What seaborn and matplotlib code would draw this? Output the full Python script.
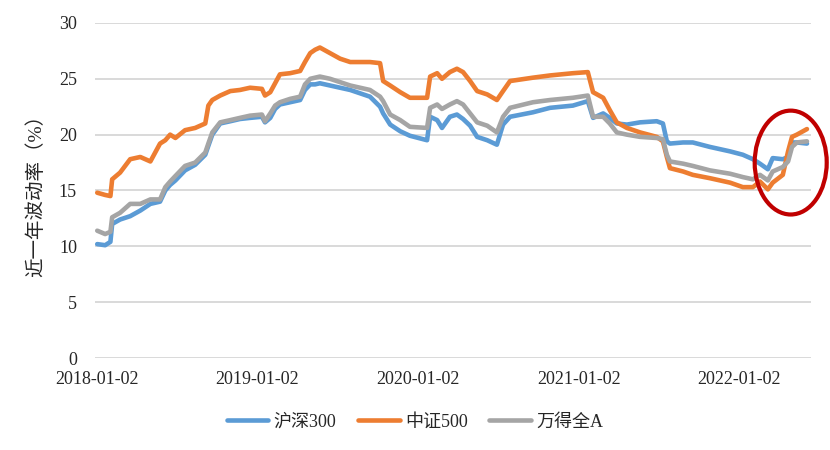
import matplotlib
matplotlib.use("Agg")
import matplotlib.pyplot as plt
import matplotlib.dates as mdates
from matplotlib.patches import Ellipse
import seaborn as sns
import pandas as pd

dates = [
    "2018-01-02", "2018-01-20", "2018-02-01", "2018-02-05", "2018-02-23", "2018-03-18",
    "2018-04-10", "2018-05-03", "2018-05-25", "2018-06-06", "2018-06-17", "2018-06-29",
    "2018-07-21", "2018-08-13", "2018-09-05", "2018-09-12", "2018-09-21", "2018-10-09",
    "2018-11-01", "2018-11-23", "2018-12-16", "2019-01-12", "2019-01-19", "2019-01-31",
    "2019-02-11", "2019-02-22", "2019-03-17", "2019-04-09", "2019-04-20", "2019-05-02",
    "2019-05-13", "2019-05-24", "2019-06-16", "2019-07-09", "2019-08-01", "2019-09-15",
    "2019-10-08", "2019-10-15", "2019-10-31", "2019-11-23", "2019-12-15", "2020-01-23",
    "2020-01-30", "2020-02-15", "2020-02-26", "2020-03-15", "2020-03-31", "2020-04-14",
    "2020-04-30", "2020-05-16", "2020-06-08", "2020-06-30", "2020-07-14", "2020-07-30",
    "2020-09-20", "2020-10-29", "2020-12-20", "2021-01-23", "2021-02-04", "2021-02-27",
    "2021-03-14", "2021-03-30", "2021-04-22", "2021-05-22", "2021-06-29", "2021-07-13",
    "2021-07-22", "2021-07-29", "2021-08-28", "2021-09-19", "2021-10-28", "2021-12-13",
    "2022-01-11", "2022-02-03", "2022-02-19", "2022-03-09", "2022-03-20", "2022-04-12",
    "2022-04-24", "2022-05-03", "2022-05-14", "2022-06-06",
]

hs300 = [
    10.2, 10.1, 10.4, 12.0, 12.4, 12.7, 13.2, 13.8, 14.0, 15.0, 15.5, 15.9,
    16.8, 17.3, 18.2, 19.0, 20.0, 21.0, 21.2, 21.4, 21.5, 21.6, 21.1, 21.5,
    22.3, 22.7, 22.9, 23.1, 24.0, 24.5, 24.5, 24.6, 24.4, 24.2, 24.0, 23.4,
    22.5, 21.9, 20.9, 20.3, 19.9, 19.5, 21.6, 21.3, 20.6, 21.6, 21.8, 21.4,
    20.8, 19.8, 19.5, 19.1, 20.9, 21.6, 22.0, 22.4, 22.6, 23.0, 21.5, 21.9,
    21.5, 21.0, 20.9, 21.1, 21.2, 21.0, 19.4, 19.2, 19.3, 19.3, 18.9, 18.5,
    18.2, 17.8, 17.4, 16.9, 17.9, 17.8, 18.0, 19.3, 19.3, 19.2,
]

zz500 = [
    14.8, 14.6, 14.5, 16.0, 16.6, 17.8, 18.0, 17.6, 19.2, 19.5, 20.0, 19.7,
    20.4, 20.6, 21.0, 22.6, 23.1, 23.5, 23.9, 24.0, 24.2, 24.1, 23.5, 23.8,
    24.6, 25.4, 25.5, 25.7, 26.5, 27.3, 27.6, 27.8, 27.3, 26.8, 26.5, 26.5,
    26.4, 24.8, 24.4, 23.8, 23.3, 23.3, 25.2, 25.5, 25.0, 25.6, 25.9, 25.6,
    24.8, 23.9, 23.6, 23.1, 23.9, 24.8, 25.1, 25.3, 25.5, 25.6, 23.8, 23.3,
    22.2, 21.1, 20.6, 20.2, 19.8, 19.4, 18.0, 17.0, 16.7, 16.4, 16.1, 15.7,
    15.3, 15.3, 15.8, 15.1, 15.7, 16.4, 18.5, 19.8, 20.0, 20.5,
]

wind_a = [
    11.4, 11.1, 11.3, 12.6, 13.0, 13.8, 13.8, 14.2, 14.2, 15.3, 15.8, 16.3,
    17.2, 17.5, 18.4, 19.2, 20.2, 21.1, 21.3, 21.5, 21.7, 21.8, 21.2, 21.9,
    22.6, 22.9, 23.2, 23.4, 24.5, 25.0, 25.1, 25.2, 25.0, 24.7, 24.4, 24.0,
    23.4, 23.0, 21.8, 21.3, 20.7, 20.6, 22.4, 22.7, 22.3, 22.7, 23.0, 22.7,
    21.9, 21.1, 20.8, 20.2, 21.6, 22.4, 22.9, 23.1, 23.3, 23.5, 21.6, 21.6,
    21.0, 20.2, 20.0, 19.8, 19.7, 19.6, 18.2, 17.6, 17.4, 17.2, 16.8, 16.5,
    16.2, 16.0, 16.4, 15.9, 16.7, 17.1, 17.6, 18.9, 19.3, 19.4,
]

series_names = ["沪深300", "中证500", "万得全A"]
colors = ["#5B9BD5", "#ED7D31", "#A5A5A5"]
tick_dates = ["2018-01-02", "2019-01-02", "2020-01-02", "2021-01-02", "2022-01-02"]
ylabel = "近一年波动率（%）"

df = pd.DataFrame({
    "date": pd.to_datetime(dates * 3),
    "value": hs300 + zz500 + wind_a,
    "series": [series_names[0]] * len(dates) + [series_names[1]] * len(dates) + [series_names[2]] * len(dates),
})

sns.set_theme(style="white")
plt.rcParams["font.family"] = ["Liberation Serif", "Noto Sans CJK SC"]
plt.rcParams["axes.unicode_minus"] = False

fig = plt.figure(figsize=(8.3, 4.5), dpi=100)
ax = fig.add_axes([0.1145, 0.2044, 0.8625, 0.7446])

sns.lineplot(data=df, x="date", y="value", hue="series", hue_order=series_names,
             palette=colors, linewidth=3.3, ax=ax, legend=True,
             solid_joinstyle="round", solid_capstyle="round")

ax.set_ylim(0, 30)
ax.set_yticks(range(0, 31, 5))
ax.set_xlim(pd.Timestamp("2017-12-28"), pd.Timestamp("2022-06-15"))
ax.set_xticks(pd.to_datetime(tick_dates))
ax.set_xticklabels(tick_dates)
ax.grid(axis="y", color="#D9D9D9", linewidth=1.4)
ax.grid(axis="x", visible=False)
ax.set_axisbelow(True)
for s in ax.spines.values():
    s.set_visible(False)
ax.tick_params(axis="both", length=0, labelsize=13, colors="#262626")
ax.tick_params(axis="x", pad=9)
ax.tick_params(axis="y", pad=13)
ax.set_xlabel("")
ax.set_ylabel(ylabel, fontsize=14, color="#262626", labelpad=10)

# red ellipse highlight
cx = mdates.date2num(pd.Timestamp("2022-04-30"))
ell = Ellipse((cx, 17.5), width=164, height=9.3, fill=False, edgecolor="#C00000",
              linewidth=3.0, clip_on=False, zorder=5)
ax.add_patch(ell)

handles, labels = ax.get_legend_handles_labels()
ax.get_legend().remove()
fig.legend(handles, labels, loc="center", bbox_to_anchor=(0.5, 0.062), ncol=3,
           frameon=False, fontsize=13, handlelength=2.3, handletextpad=0.3,
           columnspacing=1.2)

fig.savefig("out.png", dpi=100)
